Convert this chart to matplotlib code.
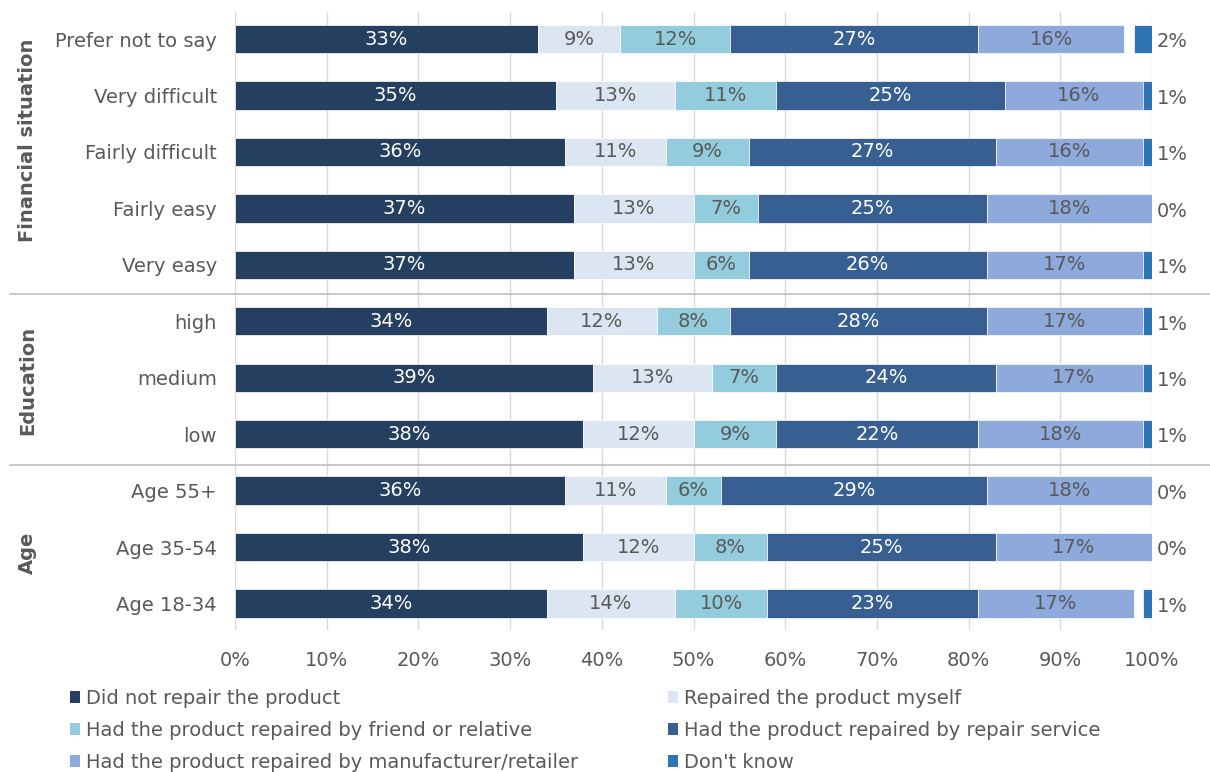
import numpy as np
import matplotlib.pyplot as plt
import matplotlib.transforms as mtransforms
from matplotlib.patches import Patch

# rows from top to bottom
rows = ["Prefer not to say", "Very difficult", "Fairly difficult", "Fairly easy", "Very easy",
        "high", "medium", "low",
        "Age 55+", "Age 35-54", "Age 18-34"]

series = ["Did not repair the product",
          "Repaired the product myself",
          "Had the product repaired by friend or relative",
          "Had the product repaired by repair service",
          "Had the product repaired by manufacturer/retailer",
          "Don't know"]

not_repaired = [33, 35, 36, 37, 37, 34, 39, 38, 36, 38, 34]
myself       = [9, 13, 11, 13, 13, 12, 13, 12, 11, 12, 14]
friend       = [12, 11, 9, 7, 6, 8, 7, 9, 6, 8, 10]
service      = [27, 25, 27, 25, 26, 28, 24, 22, 29, 25, 23]
manufacturer = [16, 16, 16, 18, 17, 17, 17, 18, 18, 17, 17]
dont_know    = [2, 1, 1, 0, 1, 1, 1, 1, 0, 0, 1]

groups = ["Financial situation", "Education", "Age"]
group_pos = [1.8, 6.05, 9.1]
group_breaks = [4.52, 7.55]

colors = ["#243F60", "#DCE6F2", "#93CDDD", "#375F91", "#8EA9DB", "#2E75B6"]
text_colors = ["white", "#595959", "#595959", "white", "#595959", "#595959"]

plt.rcParams['font.family'] = ['DejaVu Sans']
fs = 14

fig = plt.figure(figsize=(12.1, 7.72), dpi=100)
ax = fig.add_axes([235/1210, 1-630/772, 917/1210, 618/772])

data = [not_repaired, myself, friend, service, manufacturer]
y = np.arange(len(rows))
left = np.zeros(len(rows))
for i, vals in enumerate(data):
    vals = np.array(vals, dtype=float)
    ax.barh(y, vals, left=left, height=0.5, color=colors[i],
            edgecolor="white", linewidth=0.5, zorder=3)
    for j, v in enumerate(vals):
        ax.text(left[j] + v/2, y[j], f"{int(v)}%", ha="center", va="center",
                color=text_colors[i], fontsize=fs, zorder=5)
    left += vals

# "Don't know" sits at the right end of each bar, label outside
dk = np.array(dont_know, dtype=float)
ax.barh(y, dk, left=100 - dk, height=0.5, color=colors[5],
        edgecolor="white", linewidth=0.5, zorder=4)
for j, v in enumerate(dk):
    ax.text(100.5, y[j] + 0.05, f"{int(v)}%", ha="left", va="center",
            color="#595959", fontsize=fs, clip_on=False)

ax.set_xlim(0, 100)
ax.set_ylim(10.47, -0.48)
ax.set_xticks(np.arange(0, 101, 10))
ax.set_xticklabels([f"{t}%" for t in range(0, 101, 10)])
ax.set_yticks(y)
ax.set_yticklabels(rows)
ax.tick_params(length=0, labelsize=fs, colors="#595959", pad=15, axis="x")
ax.tick_params(length=0, labelsize=fs, colors="#595959", pad=13, axis="y")
ax.grid(axis="x", color="#D9D9D9", linewidth=1, zorder=0)
for s in ax.spines.values():
    s.set_visible(False)

# group separators and labels
trans = mtransforms.blended_transform_factory(ax.transAxes, ax.transData)
for b in group_breaks:
    ax.plot([-0.245, 1.07], [b, b], color="#BFBFBF", linewidth=1.2,
            transform=trans, clip_on=False, zorder=6)
for g, p in zip(groups, group_pos):
    ax.text(-0.226, p, g, rotation=90, ha="center", va="center", fontsize=fs,
            fontweight="bold", color="#595959", transform=trans)

order = [0, 2, 4, 1, 3, 5]
handles = [Patch(facecolor=colors[k], edgecolor="none") for k in order]
fig.legend(handles, [series[k] for k in order], ncol=2, loc="upper left",
           bbox_to_anchor=(70/1210, 1-689/772), frameon=False, fontsize=fs,
           labelcolor="#595959", handlelength=0.5, handleheight=0.55,
           handletextpad=0.3, columnspacing=4.65, labelspacing=0.67,
           borderpad=0, borderaxespad=0)

fig.savefig("out.png", dpi=100)
